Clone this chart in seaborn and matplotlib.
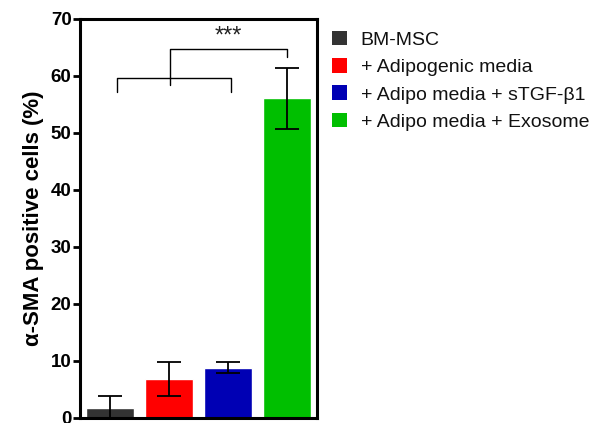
import matplotlib
matplotlib.use("Agg")
import matplotlib.pyplot as plt
import matplotlib.patches as mpatches
import pandas as pd
import seaborn as sns

# ---------------------------------------------------------------------------
# Data
# ---------------------------------------------------------------------------
groups = [
    "BM-MSC",
    "+ Adipogenic media",
    "+ Adipo media + sTGF-\u03b21",
    "+ Adipo media + Exosome",
]
means = [1.8, 6.8, 8.8, 56.0]
errors = [2.1, 3.0, 0.95, 5.3]
colors = ["#333333", "#ff0000", "#0000b4", "#00bf00"]
yticks = [0, 10, 20, 30, 40, 50, 60, 70]

df = pd.DataFrame({"group": groups, "value": means, "err": errors})

sns.set_style("ticks")
plt.rcParams["font.family"] = ["Liberation Sans", "DejaVu Sans"]

fig = plt.figure(figsize=(5.96, 4.23), dpi=100)
ax = fig.add_axes([0.134, 0.012, 0.398, 0.944])

sns.barplot(
    data=df, x="group", y="value", hue="group", palette=colors,
    order=groups, hue_order=groups, width=0.8, errorbar=None,
    legend=False, saturation=1, ax=ax,
)
ax.errorbar(
    range(len(groups)), df["value"], yerr=df["err"], fmt="none",
    ecolor="black", elinewidth=1.3, capsize=8.3, capthick=1.3, zorder=3,
)

# significance brackets
lw = 1.0
ax.plot([0.12, 0.12, 2.05, 2.05], [57.2, 59.6, 59.6, 57.2], color="black", lw=lw)
ax.plot([1.02, 1.02, 3.0, 3.0], [58.3, 64.7, 64.7, 63.2], color="black", lw=lw)
ax.text(2.0, 65.0, "***", ha="center", va="bottom", fontsize=17, color="#222222")

ax.set_xlim(-0.51, 3.51)
ax.set_ylim(0, 70)
ax.set_yticks(yticks)
ax.set_yticklabels([str(t) for t in yticks], fontsize=13.5, fontweight="bold", color="black")
ax.set_xticks([])
ax.set_xlabel("")
ax.set_ylabel("\u03b1-SMA positive cells (%)", fontsize=16, fontweight="bold",
              color="black", labelpad=5)
ax.tick_params(axis="y", length=5, width=2, pad=1, color="black")
for side in ["left", "right", "top", "bottom"]:
    ax.spines[side].set_visible(True)
    ax.spines[side].set_linewidth(2.2)
    ax.spines[side].set_color("black")

handles = [mpatches.Patch(facecolor=c, edgecolor="none", label=g) for g, c in zip(groups, colors)]
fig.legend(
    handles=handles, loc="upper left", bbox_to_anchor=(0.5445, 0.946),
    frameon=False, fontsize=14.0, handlelength=0.78, handleheight=0.78,
    handletextpad=0.68, labelspacing=0.48, borderaxespad=0, labelcolor="#111111",
)

fig.savefig("out.png", dpi=100)
plt.close(fig)
